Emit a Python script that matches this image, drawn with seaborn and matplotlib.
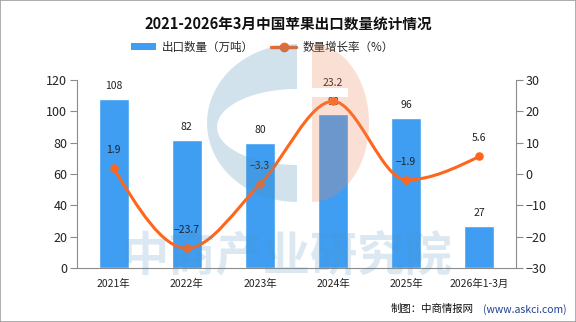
import numpy as np
import pandas as pd
import matplotlib
matplotlib.use("Agg")
import matplotlib.pyplot as plt
from matplotlib.path import Path
from matplotlib.patches import PathPatch, Rectangle, Patch
from matplotlib.lines import Line2D
import seaborn as sns

# ---- data ----
categories = ["2021年", "2022年", "2023年", "2024年", "2025年", "2026年1-3月"]
export_volume = [108, 82, 80, 98, 96, 27]
growth_rate = [1.9, -23.7, -3.3, 23.2, -1.9, 5.6]
left_ticks = [0, 20, 40, 60, 80, 100, 120]
right_ticks = [-30, -20, -10, 0, 10, 20, 30]

title = "2021-2026年3月中国苹果出口数量统计情况"
bar_name = "出口数量（万吨）"
line_name = "数量增长率（%）"
watermark = "中商产业研究院"

BAR_C = "#3f9ef2"
LINE_C = "#ff661c"
AX_C = "#8c8c8c"
WM_BLUE = (79 / 255, 143 / 255, 187 / 255)
WM_ORANGE = (239 / 255, 131 / 255, 91 / 255)

sns.set_style("white")
plt.rcParams["font.family"] = ["Noto Sans CJK SC", "DejaVu Sans"]
plt.rcParams["axes.unicode_minus"] = True

fig = plt.figure(figsize=(5.76, 3.22), dpi=100)
fig.patches.append(Rectangle((0, 0), 1, 1, transform=fig.transFigure, fill=False,
                             edgecolor="#a0a0a0", linewidth=1.2, zorder=10))
ax = fig.add_axes([0.1337, 0.1677, 0.7621, 0.5839])

df = pd.DataFrame({"cat": categories, "vol": export_volume, "g": growth_rate})
sns.barplot(data=df, x="cat", y="vol", color=BAR_C, width=0.41, saturation=1,
            ax=ax, zorder=2)
ax.set_xlim(-0.5, len(categories) - 0.5)
ax.set_ylim(0, 120)
ax.set_yticks(left_ticks)
ax.set_xlabel("")
ax.set_ylabel("")
ax.patch.set_alpha(0)

for i, v in enumerate(export_volume):
    ax.annotate(f"{v}", (i, v), xytext=(0, 9), textcoords="offset points",
                ha="center", va="center", fontsize=7.5, color="#222222", zorder=5)

ax2 = ax.twinx()
ax2.set_ylim(-30, 30)
ax2.set_yticks(right_ticks)

# smooth monotone curve through the growth points
y = np.asarray(growth_rate, dtype=float)
n = len(y)
xs = np.arange(n, dtype=float)
s = np.diff(y)
m = np.zeros(n)
for i in range(1, n - 1):
    s0, s1 = s[i - 1], s[i]
    p = (s0 + s1) / 2
    m[i] = (np.sign(s0) + np.sign(s1)) * min(abs(s0), abs(s1), 0.5 * abs(p))
m[0] = (3 * s[0] - m[1]) / 2
m[-1] = (3 * s[-1] - m[-2]) / 2
verts = [(xs[0], y[0])]
codes = [Path.MOVETO]
for i in range(n - 1):
    verts += [(xs[i] + 1 / 3, y[i] + m[i] / 3),
              (xs[i + 1] - 1 / 3, y[i + 1] - m[i + 1] / 3),
              (xs[i + 1], y[i + 1])]
    codes += [Path.CURVE4] * 3
ax2.add_patch(PathPatch(Path(verts, codes), facecolor="none", edgecolor=LINE_C,
                        linewidth=2.2, zorder=3))
sns.scatterplot(x=list(range(n)), y=growth_rate, ax=ax2, color=LINE_C, s=38,
                edgecolor=LINE_C, linewidth=0, zorder=4)

for i, g in enumerate(growth_rate):
    ax2.annotate(f"{g}".replace("-", "\u2212"), (i, g), xytext=(0, 13),
                 textcoords="offset points", ha="center", va="center",
                 fontsize=7.5, color="#222222", zorder=5)

# axes styling
for a in (ax, ax2):
    a.spines["top"].set_visible(False)
    for sp in ("left", "right", "bottom"):
        a.spines[sp].set_color(AX_C)
ax.spines["right"].set_visible(False)
ax2.spines["left"].set_visible(False)
ax2.spines["bottom"].set_visible(False)

ax.tick_params(axis="y", length=5, color=AX_C, labelsize=9, labelcolor="#222222", pad=2)
ax2.tick_params(axis="y", length=5, color=AX_C, labelsize=9, labelcolor="#222222", pad=2)
ax.set_xticks(range(n))
ax.set_xticklabels(categories, fontsize=7.5, color="#222222")
ax.tick_params(axis="x", length=0, pad=8)
ax.set_xticks(np.arange(-0.5, n, 1.0), minor=True)
ax.tick_params(axis="x", which="minor", length=5, color=AX_C)

# ---- watermark overlay (pixel coordinates, y down) ----
ov = fig.add_axes([0, 0, 1, 1], zorder=20)
ov.set_xlim(0, 576)
ov.set_ylim(322, 0)
ov.axis("off")
ov.patch.set_alpha(0)


def half_ellipse(cx, cy, a, b, side, reverse=False, k=60):
    if side == "left":
        t = np.linspace(np.pi / 2, 3 * np.pi / 2, k)
    else:
        t = np.linspace(-np.pi / 2, np.pi / 2, k)
    pts = np.column_stack([cx + a * np.cos(t), cy - b * np.sin(t)])
    if reverse:
        pts = pts[::-1]
    return pts


def compound(polys):
    v, c = [], []
    for poly in polys:
        poly = list(map(tuple, poly))
        v += poly + [poly[0]]
        c += [Path.MOVETO] + [Path.LINETO] * (len(poly) - 1) + [Path.CLOSEPOLY]
    return Path(v, c)


outer_b = half_ellipse(297, 123, 90, 79, "left")
inner_b = half_ellipse(297, 127, 80, 38, "left", reverse=True)
ov.add_patch(PathPatch(compound([outer_b, inner_b]), facecolor=WM_BLUE,
                       edgecolor="none", alpha=0.25))
outer_o = half_ellipse(312, 123, 57, 79, "right")
stripe = np.array([(312, 88), (312, 97), (348, 97), (348, 88)])
if True:
    stripe = stripe[::-1]
ov.add_patch(PathPatch(compound([outer_o, stripe]), facecolor=WM_ORANGE,
                       edgecolor="none", alpha=0.25))
ov.text(287, 256, watermark, fontsize=34, fontweight="bold", color=WM_BLUE,
        alpha=0.2, ha="center", va="center")

fig.text(0.5, 0.925, title, ha="center", va="center", fontsize=10.5,
         fontweight="bold", color="#111111")

handles = [Patch(facecolor=BAR_C, edgecolor="none"),
           Line2D([0], [0], color=LINE_C, lw=2.5, marker="o", markersize=6)]
fig.legend(handles, [bar_name, line_name], loc="center", ncol=2,
           bbox_to_anchor=(0.455, 0.853), frameon=False, fontsize=8.3,
           handlelength=2.2, handleheight=0.6, columnspacing=1.5, handletextpad=0.5)

fig.text(0.983, 0.04, "(www.askci.com)", ha="right", va="center", fontsize=7.5,
         color="#1f3f8f")
fig.text(0.822, 0.04, "制图：中商情报网", ha="right", va="center", fontsize=7.5,
         color="#111111")

fig.savefig("out.png", dpi=100)
